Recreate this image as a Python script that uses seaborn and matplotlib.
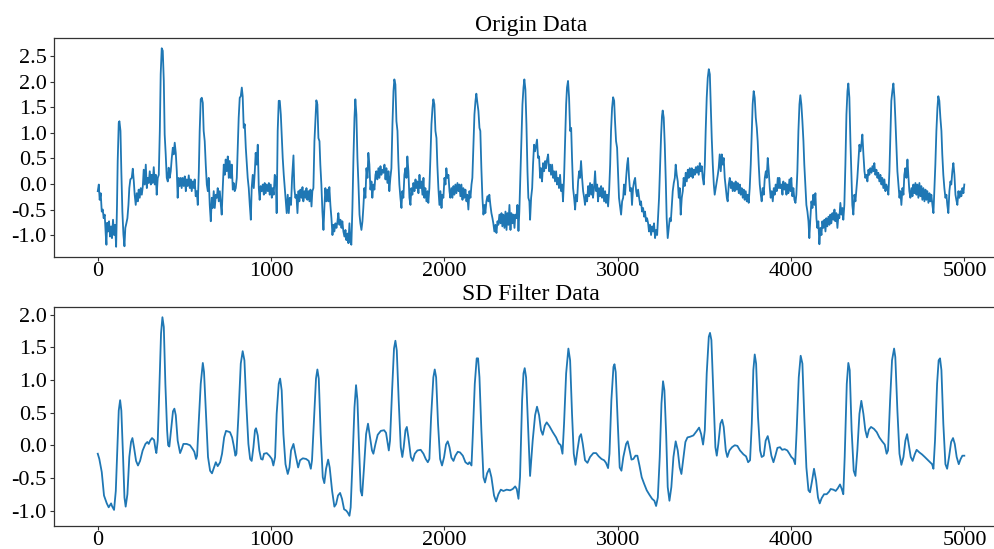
import matplotlib
matplotlib.use("Agg")
import matplotlib.pyplot as plt
from matplotlib.ticker import MultipleLocator, FormatStrFormatter
import seaborn as sns
import pandas as pd

# ---------------- Origin data (sample index, value) ----------------
origin_idx_a = [0, 3, 6, 11, 17, 23, 29, 34, 40, 46,
 50, 54, 59, 65, 71, 77, 82, 88, 94, 100,
 106, 111, 115, 121, 125, 131, 136, 142, 148, 154,
 159, 165, 171, 177, 182, 188, 196, 202, 208, 213,
 219, 225, 231, 236, 242, 248, 254, 260, 265, 271,
 277, 283, 288, 294, 300, 306, 311, 317, 323, 329,
 335, 340, 346, 352, 358, 363, 369, 375, 381, 386,
 392, 398, 404, 409, 415, 421, 427, 433, 438, 444,
 450, 456, 461, 467, 473, 479, 484, 490, 496, 502,
 508, 513, 519, 525, 531, 536, 542, 548, 554, 559,
 565, 571, 577, 583, 588, 594, 600, 606, 611, 617,
 623, 629, 635, 640, 646, 652, 658, 663, 669, 675,
 681, 687, 692, 698, 704, 710, 715, 721, 727, 733,
 738, 744, 750, 756, 761, 767, 773, 779, 784, 790,
 796, 802, 807, 813, 819, 825, 831, 836, 842, 848,
 854, 860, 865, 871, 877, 883, 888, 894, 900, 906,
 911, 917, 923, 929, 934, 940, 946, 952, 958, 963,
 969, 975, 981, 987, 992, 998, 1004, 1009, 1015, 1021,
 1027, 1032, 1038, 1044, 1050, 1056, 1061, 1067, 1073, 1079,
 1084, 1090, 1096, 1102, 1108]
origin_val_a = [-0.14, -0.08, -0.01, -0.31, -0.18, -0.54, -0.50, -0.67, -0.60, -0.99,
 -1.19, -0.76, -0.93, -0.73, -1.03, -0.83, -1.06, -0.70, -1.00, -0.80,
 -1.23, -0.41, 0.45, 1.20, 1.23, 1.04, 0.25, -0.54, -0.99, -1.22,
 -0.86, -0.77, -0.67, -0.41, -0.08, 0.09, 0.12, 0.30, 0.05, -0.21,
 -0.41, -0.18, -0.34, -0.11, -0.27, -0.08, -0.21, -0.04, 0.28, -0.01,
 0.38, -0.08, 0.12, 0.02, 0.25, -0.01, 0.18, 0.02, 0.33, -0.01,
 0.18, -0.21, 0.12, 0.18, 1.04, 2.15, 2.66, 2.61, 2.02, 0.97,
 0.58, 0.12, 0.05, 0.32, 0.12, 0.25, 0.51, 0.71, 0.58, 0.81,
 0.61, 0.25, -0.27, 0.12, -0.04, 0.12, -0.08, 0.12, -0.04, 0.15,
 -0.14, 0.09, -0.04, 0.17, -0.08, 0.09, -0.14, 0.05, -0.08, 0.09,
 -0.24, -0.14, -0.41, 0.25, 1.04, 1.66, 1.69, 1.59, 1.04, 0.84,
 0.38, -0.01, -0.14, 0.12, -0.41, -0.73, -0.27, -0.47, -0.14, -0.47,
 -0.21, -0.27, -0.08, -0.34, -0.14, -0.41, -0.60, -0.08, 0.38, 0.18,
 0.48, 0.25, 0.54, 0.12, 0.45, 0.12, 0.38, -0.11, 0.02, -0.14,
 -0.08, 0.12, 0.64, 1.30, 1.69, 1.72, 1.89, 1.72, 1.10, 1.17,
 0.71, 0.38, 0.12, -0.08, -0.41, -0.70, -0.08, 0.18, -0.08, 0.25,
 0.61, 0.38, 0.77, -0.08, -0.31, -0.04, -0.14, -0.01, -0.21, 0.02,
 -0.18, -0.01, -0.14, 0.02, -0.21, -0.01, -0.27, -0.08, -0.21, 0.18,
 0.12, -0.57, 1.04, 1.63, 1.63, 1.36, 0.97, 0.51, 0.18, -0.08,
 -0.27, -0.57, -0.21, -0.57, -0.27]

origin_idx_b = [1115, 1121, 1129, 1134, 1140, 1146, 1152, 1158, 1163, 1169,
 1175, 1181, 1186, 1192, 1198, 1204, 1209, 1215, 1221, 1227,
 1233, 1238, 1244, 1250, 1256, 1261, 1267, 1273, 1279, 1284,
 1290, 1296, 1302, 1308, 1313, 1319, 1325, 1331, 1336, 1342,
 1348, 1354, 1359, 1365, 1371, 1377, 1383, 1388, 1394, 1400,
 1406, 1411, 1417, 1423, 1429, 1434, 1440, 1446, 1452, 1457,
 1463, 1469, 1475, 1481, 1486, 1492, 1498, 1504, 1510, 1515,
 1521, 1527, 1532, 1538, 1544, 1550, 1556, 1561, 1567, 1573,
 1579, 1584, 1590, 1596, 1602, 1607, 1613, 1619, 1625, 1631,
 1636, 1642, 1648, 1654, 1660, 1665, 1671, 1677, 1682, 1688,
 1694, 1700, 1706, 1711, 1717, 1723, 1729, 1734, 1740, 1746,
 1752, 1757, 1763, 1769, 1775, 1781, 1786, 1792, 1798, 1804,
 1809, 1815, 1821, 1827, 1833, 1838, 1844, 1850, 1856, 1861,
 1867, 1873, 1879, 1884, 1890, 1896, 1902, 1907, 1913, 1919,
 1925, 1931, 1936, 1942, 1948, 1954, 1959, 1965, 1971, 1977,
 1983, 1988, 1994, 2000, 2006, 2011, 2017, 2023, 2029, 2034,
 2040, 2046, 2052, 2057, 2063, 2069, 2075, 2081, 2086, 2092,
 2098, 2104, 2109, 2115, 2121, 2127, 2132, 2138, 2144, 2150,
 2156, 2161, 2167, 2173, 2179, 2184, 2190, 2196, 2202, 2207,
 2213, 2219, 2225, 2231, 2236, 2242, 2248, 2254, 2259, 2265,
 2271, 2277, 2282, 2288, 2294, 2300, 2306, 2311, 2317, 2323,
 2329, 2334, 2340, 2346, 2352, 2358, 2363, 2369, 2375, 2381,
 2386, 2392, 2398, 2404, 2409, 2415, 2421, 2427, 2432, 2438,
 2444, 2450, 2456, 2461, 2467, 2473, 2479, 2484, 2490]
origin_val_b = [-0.41, 0.12, 0.56, -0.08, -0.27, -0.21, -0.57, -0.14, -0.34, -0.11,
 -0.27, -0.06, -0.34, -0.14, -0.27, -0.08, -0.31, -0.14, -0.34, -0.11,
 -0.44, -0.14, -0.08, 0.84, 1.30, 1.64, 1.56, 0.90, 0.84, 0.38,
 -0.01, -0.54, -0.90, -0.41, -0.08, -0.34, -0.11, -0.34, -0.06, -0.41,
 -0.67, -1.00, -0.80, -0.93, -0.77, -0.86, -0.73, -0.57, -0.80, -0.70,
 -0.86, -0.73, -0.93, -1.03, -0.90, -1.10, -0.97, -1.16, -0.77, -1.13,
 -1.19, -0.47, 0.51, 1.30, 1.66, 1.36, 0.51, -0.01, -0.60, -0.77,
 -0.90, -0.73, -0.47, -0.08, -0.27, 0.31, 0.12, 0.61, 0.38, -0.11,
 0.05, -0.27, -0.01, -0.11, 0.18, 0.25, 0.09, 0.31, 0.12, 0.35,
 0.18, 0.28, 0.22, 0.38, 0.09, 0.31, 0.02, 0.25, -0.14, 0.12,
 0.31, 1.17, 1.82, 2.05, 1.95, 1.23, 1.04, 0.45, -0.01, -0.27,
 -0.47, -0.14, -0.27, 0.18, 0.31, 0.12, 0.54, 0.25, -0.27, -0.41,
 -0.08, -0.21, 0.02, -0.14, 0.09, -0.08, 0.05, -0.18, 0.18, -0.08,
 0.05, -0.21, 0.12, -0.27, -0.08, -0.34, -0.14, -0.37, -0.08, 0.51,
 1.17, 1.49, 1.66, 1.56, 1.04, 0.90, 0.38, -0.08, -0.41, -0.14,
 -0.47, -0.21, -0.27, 0.12, -0.01, 0.31, 0.12, 0.18, -0.14, -0.27,
 -0.08, -0.27, -0.04, -0.21, -0.01, -0.18, 0.02, -0.14, -0.01, -0.24,
 -0.01, -0.31, -0.08, -0.27, -0.11, -0.34, -0.21, -0.50, -0.14, -0.27,
 -0.01, 0.12, 0.77, 1.36, 1.63, 1.77, 1.59, 1.43, 1.10, 1.04,
 0.31, -0.27, -0.60, -0.41, -0.57, -0.34, -0.24, -0.34, -0.21, -0.41,
 -0.57, -0.67, -0.77, -0.93, -0.80, -0.96, -0.73, -0.80, -0.60, -0.77,
 -0.57, -0.83, -0.60, -0.86, -0.54, -0.90, -0.57, -0.80, -0.41, -0.90,
 -0.57, -0.77, -0.60, -0.86, -0.60, -0.67, -0.41, -0.92, -0.54, 0.18,
 0.90, 1.56, 1.89, 2.05, 1.85, 1.17, 0.25, -0.27, -0.34]

origin_idx_c = [2494, 2500, 2506, 2511, 2517, 2523, 2529, 2534, 2540, 2546,
 2552, 2557, 2563, 2569, 2575, 2581, 2586, 2592, 2598, 2604,
 2609, 2615, 2621, 2627, 2632, 2638, 2644, 2650, 2656, 2661,
 2667, 2673, 2679, 2684, 2690, 2696, 2702, 2707, 2713, 2719,
 2725, 2731, 2736, 2742, 2748, 2754, 2759, 2765, 2771, 2777,
 2782, 2788, 2794, 2800, 2806, 2811, 2817, 2823, 2829, 2834,
 2840, 2846, 2852, 2857, 2863, 2869, 2875, 2881, 2886, 2892,
 2898, 2904, 2909, 2915, 2921, 2927, 2932, 2938, 2944, 2950,
 2956, 2961, 2967, 2973, 2979, 2984, 2990, 2996, 3002, 3007,
 3013, 3019, 3025, 3031, 3036, 3042, 3048, 3054, 3059, 3065,
 3071, 3077, 3082, 3088, 3094, 3100, 3106, 3111, 3117, 3123,
 3129, 3134, 3140, 3146, 3152, 3157, 3163, 3169, 3175, 3180,
 3186, 3192, 3198, 3204, 3209, 3215, 3221, 3227, 3232, 3238,
 3244, 3250, 3255, 3259, 3265, 3271, 3277, 3282, 3288, 3294,
 3300, 3306, 3311, 3317, 3323, 3329, 3334, 3340, 3346, 3352,
 3357, 3363, 3369, 3375, 3380, 3386, 3392, 3398, 3404, 3409,
 3415, 3421, 3427, 3432, 3438, 3444, 3450, 3456, 3461, 3467,
 3473, 3479, 3484, 3490, 3496, 3502, 3507, 3513, 3519, 3525,
 3531, 3536, 3542, 3548, 3554, 3559, 3565, 3571, 3577, 3582,
 3588, 3594, 3600, 3605, 3611, 3617, 3623, 3629, 3634, 3640,
 3646, 3652, 3657, 3663, 3669, 3675, 3680, 3686, 3692, 3698,
 3704, 3709, 3715, 3721, 3727, 3732, 3738, 3744, 3750, 3755,
 3761, 3767, 3773, 3778, 3784, 3790, 3796, 3802, 3807, 3813,
 3819, 3825, 3830, 3836, 3842, 3848, 3854, 3859, 3865, 3871,
 3877, 3882, 3888, 3894, 3900, 3905, 3911, 3917, 3923, 3929]
origin_val_c = [-0.70, -0.27, -0.08, 0.38, 0.77, 0.64, 0.77, 0.87, 0.51, 0.54,
 0.12, 0.31, 0.05, 0.41, 0.25, 0.45, 0.31, 0.48, 0.58, 0.25,
 0.38, 0.18, 0.38, 0.12, 0.25, 0.05, 0.25, -0.01, 0.12, -0.08,
 0.18, -0.14, -0.01, -0.34, 0.12, 0.84, 1.56, 1.89, 2.02, 1.69,
 1.04, 1.10, 0.51, -0.08, -0.27, -0.50, -0.21, -0.34, 0.05, 0.25,
 0.12, 0.45, 0.12, -0.14, -0.27, -0.41, -0.21, -0.34, -0.04, -0.24,
 0.02, -0.21, -0.01, -0.27, -0.08, 0.25, -0.14, -0.01, -0.34, -0.08,
 -0.24, -0.04, -0.27, -0.08, -0.34, -0.14, -0.37, -0.21, -0.44, -0.14,
 0.38, 1.04, 1.49, 1.70, 1.63, 1.23, 0.84, 0.71, 0.18, -0.27,
 -0.44, -0.60, -0.34, -0.27, -0.01, -0.21, 0.12, 0.38, 0.51, 0.12,
 -0.14, -0.08, -0.41, -0.08, 0.05, 0.12, -0.14, -0.24, -0.11, -0.27,
 -0.41, -0.34, -0.54, -0.47, -0.64, -0.54, -0.73, -0.67, -0.77, -0.93,
 -0.80, -1.00, -0.83, -0.93, -0.77, -1.06, -0.90, -1.00, -0.67, -0.27,
 0.38, 0.97, 1.33, 1.44, 1.30, 0.77, 0.05, -0.67, -1.06, -0.86,
 -0.67, -0.73, -0.47, -0.14, 0.02, 0.12, 0.38, 0.18, 0.05, -0.27,
 -0.08, -0.60, -0.27, -0.14, 0.12, -0.04, 0.22, 0.05, 0.28, 0.12,
 0.31, 0.15, 0.31, 0.12, 0.28, 0.18, 0.33, 0.22, 0.35, 0.18,
 0.41, 0.25, 0.35, 0.12, -0.01, 0.38, 1.04, 1.69, 2.08, 2.25,
 2.15, 1.56, 0.90, 0.38, -0.01, -0.21, -0.08, 0.05, 0.18, 0.31,
 0.58, 0.25, 0.58, 0.38, 0.51, 0.12, -0.08, -0.27, -0.34, -0.01,
 0.12, -0.08, 0.05, -0.14, 0.02, -0.14, 0.05, -0.11, 0.02, -0.18,
 -0.01, -0.21, -0.08, -0.27, -0.11, -0.31, -0.14, -0.34, -0.21, -0.37,
 -0.08, 0.38, 1.04, 1.56, 1.82, 1.69, 1.30, 1.10, 0.84, 0.38,
 -0.01, -0.21, -0.34, -0.08, -0.21, 0.12, 0.25, 0.12, 0.51, 0.25,
 -0.08, -0.27, -0.14, -0.34, -0.08, -0.21, -0.01, -0.14, 0.12, -0.08]

origin_idx_d = [3932, 3938, 3944, 3950, 3955, 3961, 3967, 3973, 3978, 3984,
 3990, 3996, 4001, 4007, 4013, 4019, 4025, 4030, 4036, 4042,
 4048, 4053, 4059, 4065, 4071, 4076, 4082, 4088, 4094, 4100,
 4105, 4111, 4117, 4123, 4128, 4134, 4140, 4146, 4151, 4157,
 4163, 4169, 4175, 4180, 4186, 4192, 4198, 4203, 4209, 4215,
 4221, 4226, 4232, 4238, 4244, 4250, 4255, 4261, 4267, 4273,
 4278, 4284, 4290, 4296, 4301, 4307, 4313, 4319, 4325, 4330,
 4336, 4342, 4348, 4353, 4359, 4365, 4371, 4376, 4382, 4388,
 4394, 4400, 4405, 4411, 4417, 4423, 4428, 4434, 4440, 4446,
 4451, 4457, 4463, 4469, 4475, 4480, 4486, 4492, 4498, 4503,
 4509, 4515, 4521, 4526, 4532, 4538, 4544, 4549, 4555, 4561,
 4567, 4573, 4578, 4584, 4590, 4596, 4601, 4607, 4613, 4619,
 4625, 4630, 4636, 4642, 4648, 4653, 4659, 4665, 4671, 4676,
 4682, 4688, 4694, 4700, 4705, 4711, 4717, 4723, 4728, 4734,
 4740, 4746, 4751, 4757, 4763, 4769, 4775, 4780, 4786, 4792,
 4798, 4803, 4809, 4815, 4821, 4826, 4832, 4838, 4844, 4849,
 4855, 4861, 4867, 4872, 4878, 4884, 4890, 4896, 4901, 4907,
 4913, 4919, 4924, 4930, 4936, 4942, 4948, 4953, 4959, 4965,
 4971, 4976, 4982, 4988, 4994, 4999]
origin_val_d = [0.12, -0.08, -0.01, -0.21, 0.05, -0.11, 0.02, -0.21, -0.01, -0.18,
 0.09, -0.14, 0.12, -0.24, -0.08, -0.31, -0.37, -0.21, 0.25, 1.04,
 1.56, 1.74, 1.56, 1.23, 0.84, 0.38, -0.01, -0.41, -0.54, -0.73,
 -1.06, -0.67, -0.34, -0.47, -0.21, -0.41, -0.18, -0.67, -0.86, -0.73,
 -1.18, -0.86, -1.00, -0.73, -0.86, -0.70, -0.93, -0.67, -0.83, -0.64,
 -0.80, -0.60, -0.77, -0.57, -0.70, -0.50, -0.73, -0.57, -0.86, -0.60,
 -0.67, -0.37, -0.60, -0.47, -0.70, -0.41, 0.38, 1.36, 1.82, 1.97,
 1.69, 0.84, 0.18, -0.41, -0.60, -0.21, -0.34, -0.14, 0.12, 0.45,
 0.77, 0.64, 0.77, 0.97, 0.58, 0.25, 0.12, 0.18, 0.05, 0.28,
 0.18, 0.31, 0.22, 0.35, 0.25, 0.41, 0.18, 0.28, 0.12, 0.22,
 0.05, 0.18, -0.01, 0.12, -0.08, 0.09, -0.14, -0.01, -0.08, -0.21,
 0.25, 1.04, 1.63, 1.82, 1.97, 1.69, 1.30, 0.77, 0.25, -0.01,
 -0.27, -0.14, -0.41, -0.08, -0.21, 0.18, 0.31, 0.12, 0.48, 0.18,
 -0.14, -0.27, -0.08, -0.24, -0.01, -0.18, 0.02, -0.21, -0.01, -0.27,
 0.02, -0.24, -0.04, -0.31, -0.08, -0.34, -0.11, -0.31, -0.14, -0.37,
 -0.18, -0.34, -0.21, -0.41, -0.57, -0.14, 0.38, 1.04, 1.49, 1.72,
 1.63, 1.30, 1.04, 0.58, 0.18, -0.08, -0.27, -0.21, -0.41, -0.57,
 -0.14, 0.05, -0.01, 0.25, 0.41, 0.18, -0.21, -0.31, -0.41, -0.14,
 -0.27, -0.14, -0.24, -0.08, -0.18, -0.01]

# ---------------- SD filtered data (sample index, value) ----------------
filt_idx_a = [0, 9, 23, 36, 52, 63, 77, 82, 94, 104,
 115, 121, 129, 136, 146, 154, 161, 171, 182, 192,
 200, 209, 221, 232, 244, 259, 275, 286, 294, 302,
 313, 325, 333, 338, 346, 356, 365, 373, 381, 390,
 400, 406, 413, 423, 434, 442, 450, 461, 475, 484,
 494, 513, 532, 548, 557, 567, 573, 582, 594, 606,
 613, 625, 636, 648, 659, 671, 681, 692, 706, 717,
 729, 740, 763, 775, 784, 794, 800, 811, 825, 836,
 846, 857, 869, 879, 888, 898, 907, 913, 923, 932,
 942, 951, 959, 975, 990, 1004, 1013, 1023, 1032, 1044,
 1052, 1061, 1071, 1083, 1096, 1106, 1115]
filt_val_a = [-0.13, -0.21, -0.41, -0.77, -0.89, -0.95, -0.89, -0.93, -0.99, -0.70,
 0.12, 0.53, 0.69, 0.53, -0.18, -0.80, -0.94, -0.75, -0.18, 0.05,
 0.11, -0.03, -0.24, -0.31, -0.24, -0.08, 0.02, 0.05, 0.02, 0.07,
 0.11, 0.08, -0.06, -0.12, 0.07, 0.94, 1.71, 1.96, 1.81, 0.94,
 0.23, 0.00, -0.02, 0.23, 0.52, 0.56, 0.46, 0.07, -0.12, -0.06,
 0.02, 0.02, 0.00, -0.06, -0.10, -0.21, -0.16, 0.33, 0.94, 1.26,
 1.12, 0.43, -0.18, -0.39, -0.43, -0.34, -0.26, -0.32, -0.26, -0.13,
 0.12, 0.22, 0.20, 0.12, 0.00, -0.16, -0.13, 0.43, 1.25, 1.44,
 1.30, 0.63, 0.02, -0.21, -0.24, -0.03, 0.23, 0.26, 0.15, -0.08,
 -0.21, -0.22, -0.13, -0.12, -0.16, -0.21, -0.31, -0.18, 0.48, 0.94,
 1.02, 0.84, 0.17, -0.29, -0.44, -0.34, -0.08]

filt_idx_b = [1129, 1142, 1156, 1167, 1183, 1202, 1217, 1229, 1236, 1248,
 1259, 1267, 1275, 1286, 1298, 1307, 1317, 1329, 1338, 1352,
 1365, 1375, 1386, 1398, 1409, 1421, 1433, 1442, 1452, 1459,
 1469, 1481, 1490, 1498, 1508, 1517, 1525, 1536, 1548, 1559,
 1571, 1582, 1590, 1602, 1615, 1633, 1652, 1663, 1671, 1679,
 1686, 1698, 1709, 1717, 1725, 1736, 1748, 1757, 1765, 1775,
 1783, 1792, 1806, 1817, 1829, 1844, 1863, 1879, 1892, 1904,
 1913, 1923, 1936, 1944, 1952, 1963, 1975, 1986, 1998, 2009,
 2019, 2029, 2040, 2052, 2063, 2077, 2090, 2106, 2121, 2136,
 2144, 2156, 2163, 2175, 2186, 2194, 2202, 2213, 2225, 2234,
 2246, 2259, 2271, 2286, 2298, 2311, 2325, 2340, 2359, 2379,
 2394, 2408, 2417, 2427, 2436, 2448, 2456, 2463, 2471, 2483]
filt_val_b = [0.02, -0.16, -0.34, -0.23, -0.20, -0.21, -0.24, -0.36, -0.23, 0.43,
 1.02, 1.16, 1.02, 0.17, -0.49, -0.58, -0.36, -0.22, -0.34, -0.70,
 -0.94, -0.90, -0.77, -0.73, -0.82, -0.98, -1.00, -1.03, -1.08, -0.95,
 -0.29, 0.58, 0.92, 0.69, -0.08, -0.70, -0.77, -0.34, 0.17, 0.33,
 0.12, -0.08, -0.13, 0.02, 0.16, 0.22, 0.23, 0.19, 0.05, -0.08,
 0.07, 0.84, 1.48, 1.60, 1.45, 0.69, -0.03, -0.18, -0.03, 0.23,
 0.28, 0.12, -0.18, -0.24, -0.13, -0.08, -0.07, -0.13, -0.21, -0.26,
 -0.21, 0.43, 1.04, 1.16, 1.04, 0.33, -0.21, -0.31, -0.18, 0.01,
 0.06, -0.03, -0.19, -0.24, -0.16, -0.10, -0.11, -0.16, -0.26, -0.29,
 -0.26, -0.31, 0.12, 0.94, 1.33, 1.33, 1.04, 0.23, -0.49, -0.57,
 -0.43, -0.36, -0.49, -0.77, -0.86, -0.75, -0.68, -0.70, -0.68, -0.69,
 -0.67, -0.63, -0.67, -0.82, -0.49, 0.69, 1.10, 1.18, 1.04, 0.23]

filt_idx_c = [2494, 2509, 2523, 2534, 2546, 2557, 2567, 2579, 2590, 2606,
 2625, 2644, 2659, 2671, 2681, 2690, 2702, 2715, 2725, 2736,
 2746, 2756, 2767, 2779, 2788, 2798, 2811, 2825, 2840, 2859,
 2875, 2890, 2906, 2921, 2932, 2944, 2952, 2963, 2975, 2981,
 2988, 3000, 3011, 3021, 3032, 3048, 3057, 3067, 3079, 3090,
 3102, 3113, 3125, 3138, 3152, 3167, 3183, 3198, 3211, 3221,
 3231, 3242, 3252, 3261, 3269, 3279, 3288, 3298, 3309, 3321,
 3334, 3346, 3357, 3367, 3379, 3390, 3402, 3417, 3436, 3456,
 3469, 3481, 3492, 3502, 3513, 3525, 3532, 3540, 3552, 3563,
 3571, 3580, 3592, 3602, 3611, 3623, 3632, 3644, 3659, 3675,
 3690, 3705, 3725, 3740, 3752]
filt_val_c = [-0.47, 0.07, 0.46, 0.59, 0.46, 0.23, 0.16, 0.30, 0.35, 0.29,
 0.20, 0.12, 0.03, 0.00, -0.13, 0.33, 1.10, 1.48, 1.30, 0.48,
 -0.13, -0.30, -0.08, 0.13, 0.17, 0.02, -0.23, -0.27, -0.18, -0.12,
 -0.12, -0.17, -0.21, -0.23, -0.27, -0.35, -0.13, 0.69, 1.20, 1.24,
 1.12, 0.33, -0.34, -0.39, -0.18, 0.02, 0.06, -0.06, -0.22, -0.21,
 -0.16, -0.16, -0.31, -0.49, -0.59, -0.69, -0.76, -0.82, -0.85, -0.93,
 -0.80, -0.18, 0.64, 0.98, 0.84, 0.17, -0.64, -0.85, -0.64, -0.18,
 0.06, -0.08, -0.34, -0.44, -0.18, 0.05, 0.12, 0.13, 0.15, 0.22,
 0.27, 0.17, 0.01, 0.23, 1.10, 1.66, 1.72, 1.61, 0.74, -0.03,
 -0.16, 0.02, 0.33, 0.39, 0.28, -0.08, -0.18, -0.08, -0.03, 0.00,
 -0.01, -0.08, -0.14, -0.17, -0.26]

filt_idx_d = [3763, 3773, 3782, 3790, 3798, 3809, 3821, 3830, 3842, 3853,
 3865, 3875, 3886, 3898, 3909, 3921, 3936, 3948, 3963, 3978,
 3990, 4001, 4013, 4023, 4032, 4044, 4055, 4065, 4076, 4088,
 4100, 4109, 4121, 4132, 4144, 4155, 4165, 4176, 4190, 4205,
 4219, 4228, 4244, 4257, 4269, 4282, 4292, 4301, 4309, 4321,
 4330, 4338, 4349, 4361, 4371, 4382, 4394, 4405, 4417, 4428,
 4438, 4449, 4461, 4478, 4494, 4509, 4525, 4540, 4551, 4559,
 4571, 4582, 4594, 4601, 4613, 4625, 4636, 4648, 4659, 4669,
 4678, 4690, 4701, 4713, 4724, 4740, 4755, 4771, 4786, 4801,
 4813, 4821, 4830, 4842, 4851, 4859, 4867, 4878, 4890, 4900,
 4911, 4923, 4934, 4944, 4955, 4967, 4978, 4988, 4999]
filt_val_d = [-0.23, 0.33, 1.15, 1.39, 1.25, 0.43, -0.08, -0.18, -0.16, 0.07,
 0.14, 0.02, -0.16, -0.26, -0.16, -0.04, -0.03, -0.07, -0.06, -0.08,
 -0.13, -0.18, -0.21, -0.29, 0.23, 1.04, 1.37, 1.25, 0.43, -0.34,
 -0.69, -0.72, -0.54, -0.36, -0.54, -0.80, -0.89, -0.81, -0.75, -0.75,
 -0.71, -0.67, -0.68, -0.70, -0.66, -0.60, -0.67, -0.75, -0.18, 0.94,
 1.26, 1.15, 0.23, -0.39, -0.47, -0.08, 0.48, 0.68, 0.48, 0.23,
 0.12, 0.24, 0.28, 0.25, 0.20, 0.12, 0.06, 0.01, -0.13, -0.08,
 0.69, 1.30, 1.48, 1.35, 0.53, -0.13, -0.30, -0.18, 0.07, 0.17,
 0.02, -0.18, -0.24, -0.14, -0.07, -0.11, -0.14, -0.18, -0.22, -0.26,
 -0.29, -0.36, 0.07, 0.94, 1.30, 1.33, 1.15, 0.33, -0.29, -0.36,
 -0.18, 0.05, 0.11, 0.02, -0.18, -0.29, -0.21, -0.16, -0.16]

titles = ["Origin Data", "SD Filter Data"]

origin = pd.DataFrame({
    "idx": origin_idx_a + origin_idx_b + origin_idx_c + origin_idx_d,
    "val": origin_val_a + origin_val_b + origin_val_c + origin_val_d,
})
filtered = pd.DataFrame({
    "idx": filt_idx_a + filt_idx_b + filt_idx_c + filt_idx_d,
    "val": filt_val_a + filt_val_b + filt_val_c + filt_val_d,
})

plt.rcParams['font.family'] = ['Liberation Serif', 'DejaVu Serif']
plt.rcParams['axes.unicode_minus'] = False

fig = plt.figure(figsize=(9.95, 5.49), dpi=100)
ax1 = fig.add_axes([0.0547, 0.5324, 0.958, 0.3978])
ax2 = fig.add_axes([0.0547, 0.0424, 0.958, 0.3979])

for ax, df, title in [(ax1, origin, titles[0]), (ax2, filtered, titles[1])]:
    sns.lineplot(data=df, x="idx", y="val", ax=ax, color="#1f77b4",
                 linewidth=1.3, estimator=None)
    ax.set_title(title, fontsize=17, pad=5)
    ax.set_xlabel("")
    ax.set_ylabel("")
    ax.set_xlim(-250, 5249)
    ax.yaxis.set_major_locator(MultipleLocator(0.5))
    ax.yaxis.set_major_formatter(FormatStrFormatter('%.1f'))
    ax.tick_params(labelsize=16, length=3.2, width=0.8, color="#333333")
    ax.tick_params(axis="x", pad=0.8)
    ax.tick_params(axis="y", pad=2.5)
    ax.spines["right"].set_visible(False)
    for name in ["left", "top", "bottom"]:
        ax.spines[name].set_color("#333333")
        ax.spines[name].set_linewidth(0.9)

fig.savefig("out.png", dpi=100)
